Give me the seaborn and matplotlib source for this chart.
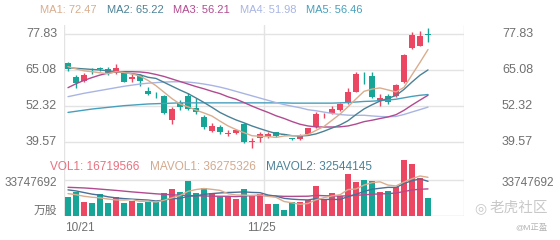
import numpy as np
import pandas as pd
import matplotlib
matplotlib.use("Agg")
import matplotlib.pyplot as plt
import seaborn as sns

# ---------------- data ----------------
date_labels = ["10/21", "11/25"]
date_index = [0, 25]

opens = [67.79, 62.81, 61.28, 65.30, 66.00, 65.44, 64.23, 64.59, 62.00, 63.41,
         57.72, 56.40, 55.94, 47.40, 53.56, 55.94, 51.78, 48.57, 43.48, 45.02,
         42.40, 42.67, 46.08, 39.70, 41.10, 41.46, 43.00, 42.40, 40.90, 40.53,
         42.31, 45.02, 48.80, 49.79, 50.96, 53.70, 57.47, 62.40, 63.06, 54.16,
         55.94, 55.94, 61.03, 72.92, 73.84, 77.95]
closes = [65.44, 60.46, 63.41, 65.10, 65.55, 64.02, 65.80, 61.03, 62.81, 61.39,
          56.55, 56.20, 49.79, 51.21, 51.92, 51.31, 50.14, 45.02, 45.37, 43.24,
          42.60, 43.74, 39.46, 39.90, 42.31, 42.31, 41.81, 42.20, 40.60, 42.06,
          44.45, 49.43, 49.00, 51.31, 53.10, 57.47, 63.67, 62.20, 55.48, 55.34,
          53.91, 59.86, 70.53, 77.65, 77.40, 77.75]
highs = [68.20, 63.41, 64.23, 66.00, 66.40, 66.37, 67.22, 64.80, 63.67, 63.60,
         59.25, 57.26, 56.20, 52.13, 54.52, 56.90, 55.12, 49.18, 46.23, 45.62,
         43.84, 44.00, 46.40, 41.10, 43.00, 43.13, 43.30, 42.50, 41.00, 42.30,
         44.60, 50.25, 49.90, 52.38, 53.50, 58.79, 64.48, 64.59, 64.59, 56.55,
         56.65, 60.20, 70.80, 78.61, 79.08, 80.00]
lows = [65.00, 58.68, 60.92, 63.77, 65.00, 63.41, 63.80, 60.90, 61.03, 59.50,
        56.30, 55.12, 49.50, 45.98, 50.96, 51.00, 49.54, 44.20, 43.30, 42.31,
        41.71, 42.40, 39.30, 37.50, 39.57, 41.00, 41.50, 42.10, 40.40, 40.30,
        42.00, 44.56, 48.10, 49.50, 50.60, 53.10, 57.20, 60.21, 55.20, 52.38,
        53.10, 55.60, 60.70, 72.60, 73.60, 75.27]

ma1 = [66.4, 65.6, 64.9, 64.6, 64.2, 63.9, 64.6, 64.3, 63.8, 63.0,
       61.5, 59.6, 57.3, 55.0, 53.1, 52.1, 50.9, 49.9, 48.8, 47.0,
       45.3, 44.0, 42.9, 41.8, 41.6, 41.5, 41.2, 41.7, 41.8, 41.8,
       42.2, 43.7, 45.1, 47.3, 49.5, 52.1, 54.9, 57.6, 58.4, 58.8,
       58.1, 57.4, 59.0, 63.5, 67.9, 72.47]
ma2 = [66.0, 65.8, 65.6, 65.4, 65.2, 64.9, 64.6, 64.2, 63.9, 63.50,
       62.61, 62.19, 60.82, 59.44, 58.07, 56.80, 55.24, 53.63, 51.89, 50.08,
       48.68, 47.43, 46.40, 45.27, 44.31, 43.41, 42.58, 42.29, 41.82, 41.70,
       41.88, 42.45, 43.41, 44.55, 45.63, 47.14, 49.33, 51.33, 52.82, 54.15,
       55.09, 56.13, 58.29, 60.92, 63.35, 65.22]
ma3 = [58.9, 60.3, 61.5, 62.5, 63.4, 64.1, 64.5, 64.6, 64.6, 64.5,
       64.2, 63.6, 62.9, 62.0, 61.1, 60.2, 59.3, 58.5, 57.6, 56.79,
       55.65, 54.81, 53.61, 52.35, 51.19, 50.11, 48.91, 47.96, 46.85, 45.89,
       45.28, 44.94, 44.90, 44.91, 44.97, 45.28, 45.95, 46.81, 47.32, 47.92,
       48.49, 49.29, 50.85, 52.73, 54.49, 56.21]
ma4 = [55.7, 56.3, 56.9, 57.4, 57.9, 58.4, 58.9, 59.4, 59.8, 60.2,
       60.5, 60.7, 60.9, 61.0, 61.0, 60.9, 60.6, 60.2, 59.7, 59.1,
       58.4, 57.6, 56.8, 56.0, 55.2, 54.4, 53.6, 52.9, 52.3, 51.76,
       51.06, 50.69, 50.21, 49.75, 49.34, 49.12, 49.05, 49.09, 48.84, 48.64,
       48.55, 48.67, 49.37, 50.25, 51.10, 51.98]
ma5 = [50.1, 50.5, 50.9, 51.3, 51.6, 51.9, 52.2, 52.5, 52.7, 52.9,
       53.1, 53.2, 53.3, 53.4, 53.5, 53.5, 53.5, 53.5, 53.5, 53.5,
       53.5, 53.5, 53.5, 53.5, 53.5, 53.5, 53.5, 53.5, 53.4, 53.4,
       53.4, 53.4, 53.4, 53.4, 53.5, 53.6, 53.8, 54.0, 54.1, 54.3,
       54.5, 54.8, 55.3, 55.8, 56.2, 56.46]

# volume (millions of shares)
vol = [17.53, 22.22, 13.12, 11.91, 20.34, 11.91, 18.09, 12.47, 14.06, 11.91,
       13.41, 13.41, 21.28, 25.03, 22.78, 33.09, 21.84, 25.97, 21.28, 18.09,
       17.53, 15.66, 25.03, 19.69, 20.62, 10.97, 11.25, 5.62, 13.41, 13.41,
       15.00, 28.40, 15.66, 21.84, 18.75, 39.09, 31.59, 33.75, 33.09, 22.78,
       23.72, 27.47, 52.50, 48.47, 35.34, 16.719566]
mavol1 = [21.0, 20.0, 18.5, 17.6, 17.02, 15.9, 15.07, 14.94, 15.37, 13.69,
          13.99, 13.05, 14.81, 17.01, 19.18, 23.12, 24.80, 25.74, 24.99, 24.05,
          20.94, 19.71, 19.52, 19.2, 19.71, 18.39, 17.51, 13.63, 12.37, 10.93,
          11.74, 15.17, 17.18, 18.86, 19.93, 24.75, 25.39, 29.0, 31.25, 32.06,
          28.99, 28.16, 31.91, 34.99, 37.5, 36.275326]
mavol2 = [24.5, 23.5, 22.0, 20.5, 19.5, 18.0, 17.0, 16.3, 15.8, 15.36,
          14.94, 14.06, 14.88, 16.19, 16.44, 18.55, 18.93, 20.28, 21.0, 21.62,
          22.03, 22.26, 22.63, 22.10, 21.88, 19.67, 18.61, 16.57, 15.79, 15.32,
          15.07, 16.34, 15.40, 15.62, 15.43, 18.24, 20.28, 23.09, 25.06, 26.0,
          26.87, 26.77, 30.46, 33.12, 34.78, 32.544145]
mavol3 = [26.9, 26.6, 26.3, 25.8, 25.2, 24.6, 24.0, 23.3, 22.6, 22.0,
          21.4, 20.8, 20.3, 19.9, 19.5, 19.2, 19.0, 18.8, 18.6, 18.49,
          18.49, 18.16, 18.75, 19.14, 19.16, 19.11, 18.77, 18.43, 18.39, 18.47,
          18.55, 19.30, 19.02, 18.86, 18.66, 18.96, 19.44, 19.83, 20.42, 20.66,
          20.97, 21.56, 22.93, 24.37, 25.11, 25.39]

price_ticks = [77.83, 65.08, 52.32, 39.57]
price_tick_labels = ["77.83", "65.08", "52.32", "39.57"]
vol_tick = 33.747692
vol_tick_label = "33747692"
ma_legend = ["MA1: 72.47", "MA2: 65.22", "MA3: 56.21", "MA4: 51.98", "MA5: 56.46"]
vol_legend = ["VOL1: 16719566", "MAVOL1: 36275326", "MAVOL2: 32544145"]

# ---------------- style ----------------
sns.set_theme(style="white")
plt.rcParams["font.family"] = ["Liberation Sans", "Noto Sans CJK SC", "DejaVu Sans"]

UP = "#eb4763"
DOWN = "#16a597"
MA_COLORS = ["#d9ad8d", "#4b8196", "#b24a90", "#a8b5e3", "#46a0bd"]
VOL_LEG_COLORS = ["#e8707f", "#d3a98e", "#4b8196"]
GRID = "#e3e3e3"
LABEL = "#707070"

W, H = 560, 240
fig = plt.figure(figsize=(W / 100, H / 100), dpi=100)
fig.patch.set_facecolor("white")


def fx(px):
    return px / W


def fy(py):
    return 1 - py / H


df = pd.DataFrame({"i": np.arange(len(closes)), "open": opens, "close": closes,
                   "high": highs, "low": lows, "vol": vol})
df["dir"] = np.where(df["close"] >= df["open"], "up", "down")
colors = [UP if d == "up" else DOWN for d in df["dir"]]

# ---------------- main price panel ----------------
ax = fig.add_axes([fx(64), fy(152), fx(400), (152 - 25) / H])
ax.set_xlim(-0.5, 49.5)
ax.set_ylim(36.01, 81.21)
for v in price_ticks:
    ax.axhline(v, color=GRID, lw=1.0, zorder=0)
for xv in (-0.5, 24.5, 49.5):
    ax.axvline(xv, color=GRID, lw=1.0, zorder=0)

body_lo = np.minimum(df["open"], df["close"])
body_h = np.maximum(np.abs(df["close"] - df["open"]), 0.18)
ax.vlines(df["i"], df["low"], df["high"], colors=colors, lw=1.0, zorder=2)
ax.bar(df["i"], body_h, bottom=body_lo, width=0.68, color=colors, zorder=3, linewidth=0)

for ma, c in zip([ma5, ma4, ma3, ma2, ma1], MA_COLORS[::-1]):
    sns.lineplot(x=df["i"], y=ma, ax=ax, color=c, lw=1.0, zorder=4)

ax.set_xticks([])
ax.set_yticks([])
ax.set_xlabel("")
ax.set_ylabel("")
for s in ax.spines.values():
    s.set_visible(False)
ax.patch.set_alpha(0)

# ---------------- volume panel ----------------
axv = fig.add_axes([fx(64), fy(216), fx(400), (216 - 152) / H])
sns.barplot(data=df, x="i", y="vol", hue="dir", palette={"up": UP, "down": DOWN},
            native_scale=True, width=0.75, dodge=False, legend=False,
            saturation=1, ax=axv, zorder=2, linewidth=0)
axv.set_xlim(-0.5, 49.5)
axv.set_ylim(0, 59.996)
axv.axhline(vol_tick, color=GRID, lw=1.0, zorder=0)
axv.axhline(0.05, color="#d6d6d6", lw=1.0, zorder=0)
for xv in (-0.5, 24.5, 49.5):
    axv.axvline(xv, color=GRID, lw=1.0, zorder=0)
for mv, c in zip([mavol3, mavol2, mavol1], ["#b24a90", "#4b6f96", "#d9ad8d"]):
    sns.lineplot(x=df["i"], y=mv, ax=axv, color=c, lw=1.0, zorder=4)
axv.set_xticks([])
axv.set_yticks([])
axv.set_xlabel("")
axv.set_ylabel("")
for s in axv.spines.values():
    s.set_visible(False)
axv.patch.set_alpha(0)

# ---------------- texts ----------------
ma_x = [40, 107, 173, 240, 306]
for t, x, c in zip(ma_legend, ma_x, MA_COLORS):
    fig.text(fx(x), fy(10), t, color=c, fontsize=8, va="center", ha="left")

price_px = [25 + (81.21 - v) * 125 / (81.21 - 36.72) for v in price_ticks]
for lab, py in zip(price_tick_labels, price_px):
    fig.text(fx(57), fy(py), lab, color=LABEL, fontsize=9, ha="right", va="center")
    fig.text(fx(502), fy(py), lab, color=LABEL, fontsize=9, ha="left", va="center")

vol_x = [50, 150, 266]
for t, x, c in zip(vol_legend, vol_x, VOL_LEG_COLORS):
    fig.text(fx(x), fy(167), t, color=c, fontsize=8.5, va="center", ha="left")

fig.text(fx(57), fy(182.5), vol_tick_label, color=LABEL, fontsize=8.5, ha="right", va="center")
fig.text(fx(502), fy(182.5), vol_tick_label, color=LABEL, fontsize=8.5, ha="left", va="center")
fig.text(fx(57), fy(211), "万股", color=LABEL, fontsize=8.5, ha="right", va="center")

fig.text(fx(65), fy(228), date_labels[0], color=LABEL, fontsize=8.5, ha="left", va="center")
fig.text(fx(64 + 8 * (date_index[1] - 0.5) + 1), fy(228), date_labels[1], color=LABEL,
         fontsize=8.5, ha="center", va="center")

# watermark
fig.text(fx(480), fy(208), "◎", color="#c8c8c8", fontsize=10, ha="center", va="center",
         family=["DejaVu Sans"])
fig.text(fx(490), fy(208), "老虎社区", color="#c8c8c8", fontsize=10.5, ha="left", va="center")
fig.text(fx(548), fy(228), "@M正盈", color="#b5b5b5", fontsize=6, ha="right", va="center")

fig.savefig("out.png", dpi=100, facecolor="white")
